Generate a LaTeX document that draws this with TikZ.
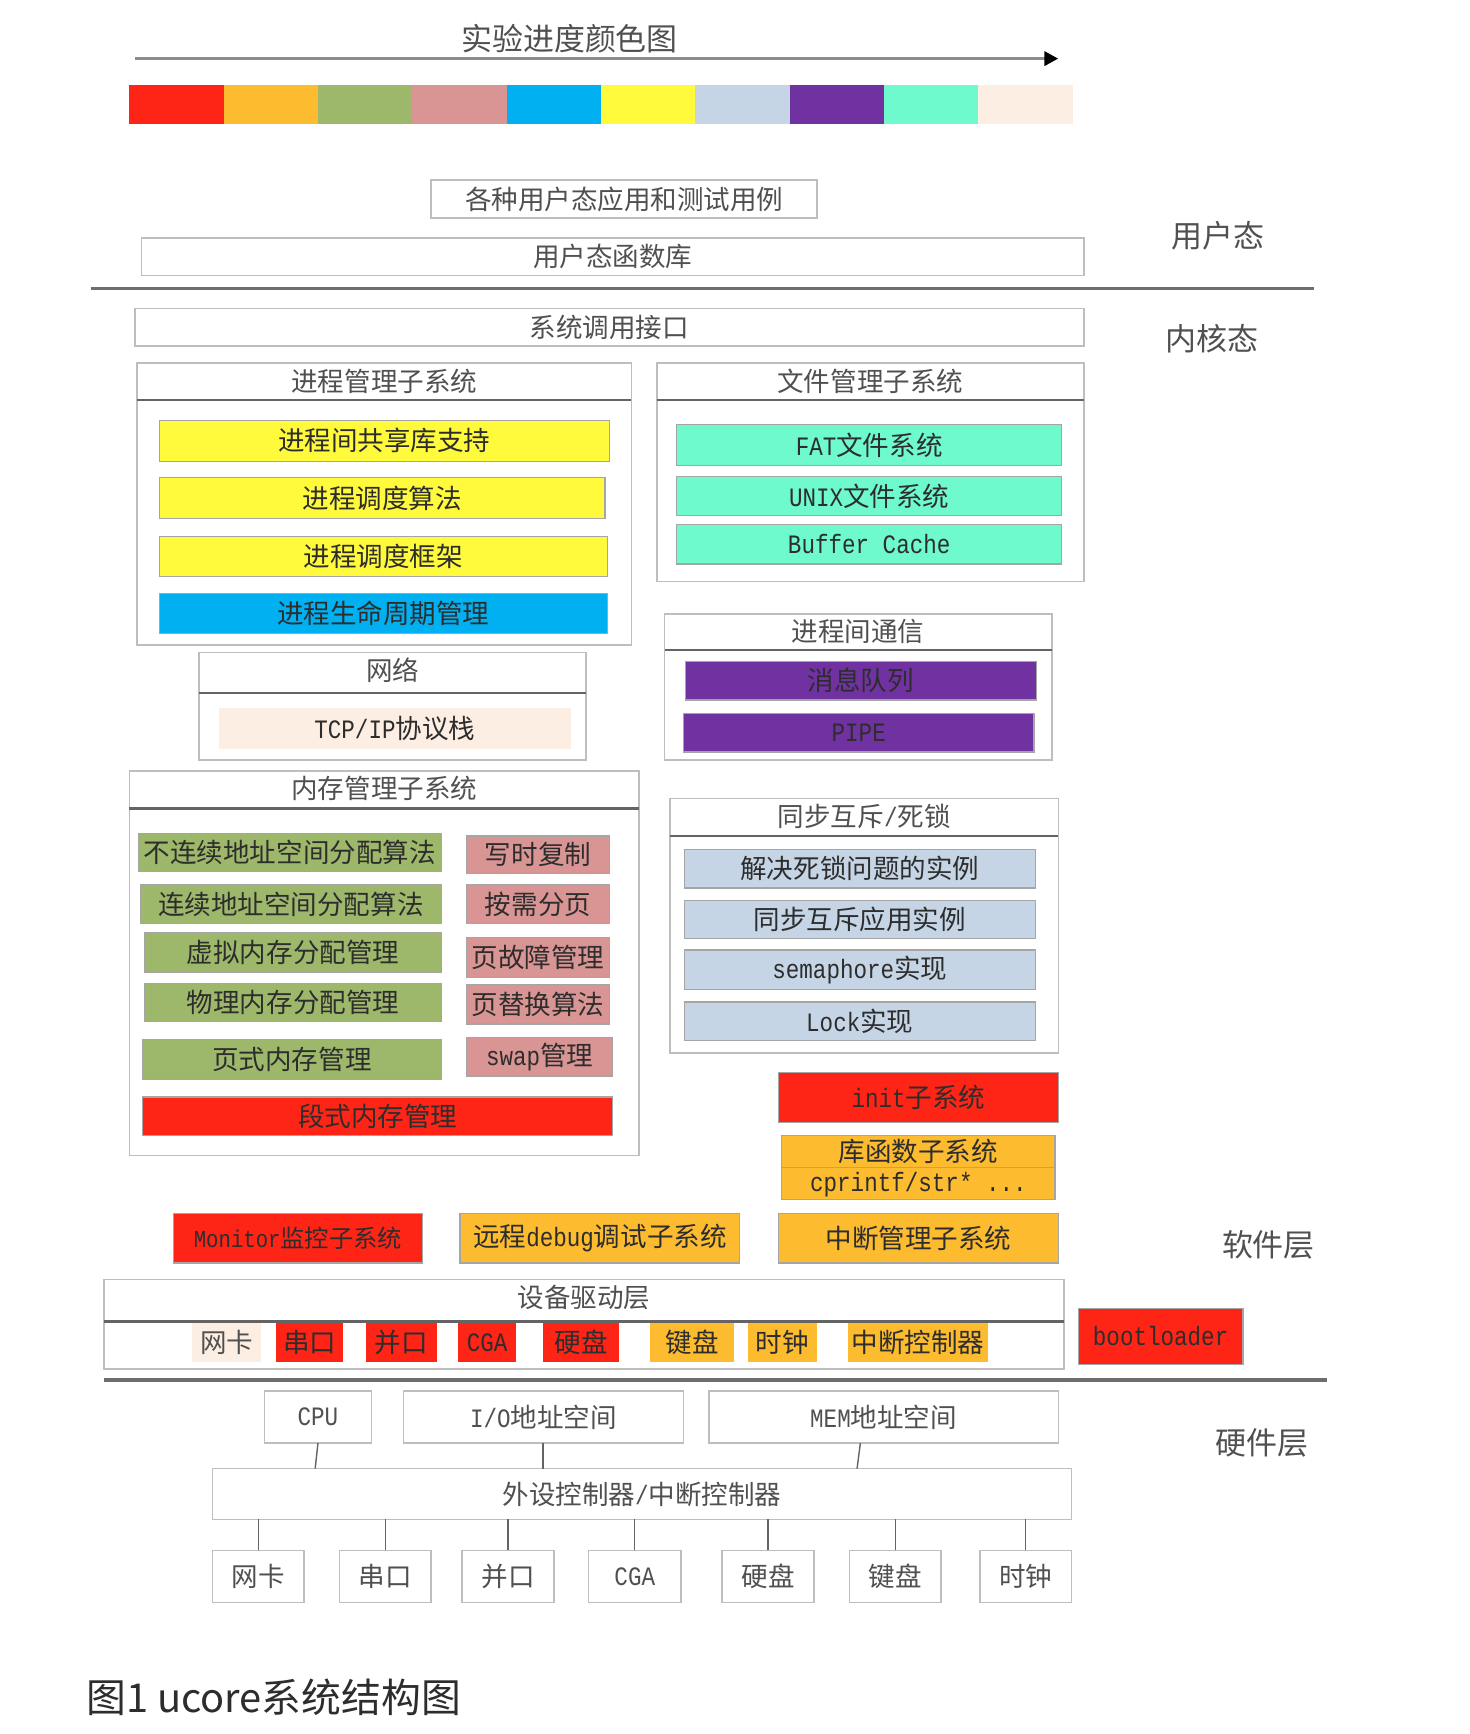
\documentclass[tikz,border=0pt]{standalone}
\usepackage{fontspec}
\setmainfont{Noto Sans CJK SC}
\newfontfamily\lat[FakeStretch=0.85]{Liberation Mono}
\usetikzlibrary{arrows.meta}
\definecolor{cRed}{RGB}{254,36,22}
\definecolor{cOrange}{RGB}{253,187,47}
\definecolor{cGreen}{RGB}{157,184,106}
\definecolor{cPink}{RGB}{217,149,148}
\definecolor{cCyan}{RGB}{0,176,240}
\definecolor{cYellow}{RGB}{255,250,60}
\definecolor{cBlue}{RGB}{198,213,229}
\definecolor{cPurple}{RGB}{112,50,160}
\definecolor{cMint}{RGB}{110,250,205}
\definecolor{cCream}{RGB}{252,238,226}
\definecolor{frameC}{RGB}{190,190,190}
\definecolor{itemC}{RGB}{165,165,165}
\definecolor{divC}{RGB}{100,100,100}
\definecolor{sepC}{RGB}{110,110,110}
\definecolor{txtGray}{RGB}{80,80,80}
\definecolor{txtDark}{RGB}{45,45,45}
\definecolor{arrowC}{RGB}{140,140,140}
\newcommand\bx[7]{\node[#6, minimum width={(#4-#2)*0.55pt}, minimum height={(#5-#3)*0.55pt}] (#1) at ({(#2+#4)/2},{(#3+#5)/2}) {#7};}
\tikzset{
  fA/.style={font=\fontsize{13.2pt}{15pt}\selectfont},
  fB/.style={font=\fontsize{12.1pt}{14pt}\selectfont},
  fC/.style={font=\fontsize{15.4pt}{17pt}\selectfont},
  frame/.style={draw=frameC, line width=0.8pt, fill=white},
  wbox/.style={frame, text=txtGray, fA},
  item/.style={draw=itemC, line width=0.6pt, text=txtDark, fA},
  ttl/.style={text=txtGray, fA},
  lbl/.style={text=txtGray, fC},
  divider/.style={draw=divC, line width=1.1pt},
  sepline/.style={draw=sepC, line width=1.7pt},
  conn/.style={draw=divC, line width=0.7pt},
  bar/.style={draw=none, minimum height={35*0.55pt}, minimum width={85.3*0.55pt}},
}
\begin{document}
\begin{tikzpicture}[x=0.55pt,y=-0.55pt, every node/.style={inner sep=0pt,outer sep=0pt}]
\fill[white] (0,0) rectangle (1329,1568);
\useasboundingbox (0,0) rectangle (1329,1568);

% ---- title and progress arrow
\node[text=txtGray, font=\fontsize{15.4pt}{17pt}\selectfont] (title) at (515,35) {实验进度颜色图};
\coordinate (arS) at (122,53);
\coordinate (arE) at (957,53);
\draw[draw=arrowC, line width=1.8pt, -{Triangle[length=7pt,width=7pt,color=black]}] (arS) -- (arE);

% ---- colour bar
\foreach \c [count=\i from 0] in {cRed,cOrange,cGreen,cPink,cCyan,cYellow,cBlue,cPurple,cMint,cCream}{
  \node[bar, fill=\c] (cb\i) at ({117+85.3*\i+42.65},94.5) {};
}

% ---- user space
\bx{apps}{390}{163}{739}{197}{wbox}{各种用户态应用和测试用例}
\bx{ulib}{128}{215}{980}{249}{wbox}{用户态函数库}
\node[lbl] (lUser) at (1101,213) {用户态};
\coordinate (s1a) at (82,261);
\coordinate (s1b) at (1188,261);
\draw[sepline] (s1a) -- (s1b);
\node[lbl] (lKern) at (1096,306) {内核态};
\bx{sysc}{122}{279}{980}{313}{wbox}{系统调用接口}

% ---- process management
\bx{pm}{124}{328}{571}{583}{frame}{}
\node[ttl] (pmT) at (347.5,345) {进程管理子系统};
\draw[divider] (pm.west |- 0,362) -- (pm.east |- 0,362);
\bx{pm1}{144}{380}{551}{417}{item, fill=cYellow}{进程间共享库支持}
\bx{pm2}{144}{432}{547}{469}{item, fill=cYellow}{进程调度算法}
\bx{pm3}{144}{485}{549}{521}{item, fill=cYellow}{进程调度框架}
\bx{pm4}{144}{537}{549}{573}{item, fill=cCyan}{进程生命周期管理}

% ---- file management
\bx{fm}{594}{328}{980}{526}{frame}{}
\node[ttl] (fmT) at (787,345) {文件管理子系统};
\draw[divider] (fm.west |- 0,362) -- (fm.east |- 0,362);
\bx{fm1}{612}{384}{960}{421}{item, fill=cMint}{{\lat FAT}文件系统}
\bx{fm2}{612}{431}{960}{466}{item, fill=cMint}{{\lat UNIX}文件系统}
\bx{fm3}{612}{474}{960}{510}{item, fill=cMint}{{\lat Buffer Cache}}

% ---- network
\bx{net}{180}{590}{530}{687}{frame}{}
\node[ttl] (netT) at (355,606) {网络};
\draw[divider] (net.west |- 0,627) -- (net.east |- 0,627);
\bx{net1}{198}{640}{516}{677}{item, draw=none, fill=cCream}{{\lat TCP/IP}协议栈}

% ---- IPC
\bx{ipc}{601}{555}{951}{687}{frame}{}
\node[ttl] (ipcT) at (776,571) {进程间通信};
\draw[divider] (ipc.west |- 0,588) -- (ipc.east |- 0,588);
\bx{ipc1}{620}{598}{937}{633}{item, fill=cPurple}{消息队列}
\bx{ipc2}{618}{645}{935}{680}{item, fill=cPurple}{{\lat PIPE}}

% ---- memory management
\bx{mm}{117}{697}{578}{1045}{frame}{}
\node[ttl] (mmT) at (347.5,713) {内存管理子系统};
\draw[divider] (mm.west |- 0,731) -- (mm.east |- 0,731);
\bx{mm1}{125}{754}{399}{788}{item, fill=cGreen}{不连续地址空间分配算法}
\bx{mm2}{127}{800}{399}{835}{item, fill=cGreen}{连续地址空间分配算法}
\bx{mm3}{131}{843}{399}{879}{item, fill=cGreen}{虚拟内存分配管理}
\bx{mm4}{131}{889}{399}{924}{item, fill=cGreen}{物理内存分配管理}
\bx{mm5}{129}{940}{399}{976}{item, fill=cGreen}{页式内存管理}
\bx{mp1}{422}{756}{551}{790}{item, fill=cPink}{写时复制}
\bx{mp2}{422}{800}{551}{835}{item, fill=cPink}{按需分页}
\bx{mp3}{422}{848}{551}{884}{item, fill=cPink}{页故障管理}
\bx{mp4}{422}{890}{551}{926}{item, fill=cPink}{页替换算法}
\bx{mp5}{422}{938}{554}{973}{item, fill=cPink}{{\lat swap}管理}
\bx{mm6}{129}{992}{554}{1027}{item, fill=cRed}{段式内存管理}

% ---- synchronisation
\bx{sync}{606}{722}{957}{952}{frame}{}
\node[ttl] (syncT) at (781.5,738) {同步互斥{\lat /}死锁};
\draw[divider] (sync.west |- 0,756) -- (sync.east |- 0,756);
\bx{sy1}{619}{768}{936}{803}{item, fill=cBlue}{解决死锁问题的实例}
\bx{sy2}{619}{814}{936}{849}{item, fill=cBlue}{同步互斥应用实例}
\bx{sy3}{619}{859}{936}{895}{item, fill=cBlue}{{\lat semaphore}实现}
\bx{sy4}{619}{906}{936}{941}{item, fill=cBlue}{{\lat Lock}实现}

% ---- init / lib
\bx{init}{704}{970}{957}{1015}{item, fill=cRed}{{\lat init}子系统}
\bx{lib}{707}{1027}{954}{1085}{item, fill=cOrange}{}
\node[text=txtDark, fA] (libT) at (830.5,1041) {库函数子系统};
\draw[draw=itemC, line width=0.6pt] (lib.west |- 0,1056) -- (lib.east |- 0,1056);
\node[text=txtDark, fA] (libS) at (830.5,1071) {{\lat cprintf/str* ...}};

% ---- software layer row
\bx{mon}{157}{1097}{382}{1142}{item, fill=cRed, fB}{{\lat Monitor}监控子系统}
\bx{dbg}{416}{1097}{669}{1142}{item, fill=cOrange}{远程{\lat debug}调试子系统}
\bx{intm}{704}{1097}{957}{1142}{item, fill=cOrange}{中断管理子系统}
\node[lbl] (lSoft) at (1147,1126) {软件层};

% ---- device drivers
\bx{dd}{94}{1157}{962}{1238}{frame}{}
\node[ttl] (ddT) at (528,1173) {设备驱动层};
\draw[divider] (dd.west |- 0,1195) -- (dd.east |- 0,1195);
\bx{d1}{174}{1196}{236}{1232}{item, draw=none, fill=cCream, text=txtGray}{网卡}
\bx{d2}{250}{1196}{310}{1232}{item, draw=none, fill=cRed}{串口}
\bx{d3}{331}{1196}{395}{1232}{item, draw=none, fill=cRed}{并口}
\bx{d4}{414}{1196}{467}{1232}{item, draw=none, fill=cRed}{{\lat CGA}}
\bx{d5}{491}{1196}{560}{1232}{item, draw=none, fill=cRed}{硬盘}
\bx{d6}{588}{1196}{664}{1232}{item, draw=none, fill=cOrange}{键盘}
\bx{d7}{676}{1196}{739}{1232}{item, draw=none, fill=cOrange}{时钟}
\bx{d8}{767}{1196}{893}{1232}{item, draw=none, fill=cOrange}{中断控制器}
\bx{boot}{975}{1183}{1124}{1234}{item, fill=cRed}{{\lat bootloader}}

% ---- hardware layer
\coordinate (s2a) at (94,1248);
\coordinate (s2b) at (1200,1248);
\draw[sepline] (s2a) -- (s2b);
\node[lbl] (lHard) at (1141,1305) {硬件层};
\bx{cpu}{239}{1258}{336}{1305}{wbox}{{\lat CPU}}
\bx{io}{365}{1258}{618}{1305}{wbox}{{\lat I/O}地址空间}
\bx{mem}{641}{1258}{957}{1305}{wbox}{{\lat MEM}地址空间}
\bx{per}{192}{1328}{969}{1374}{wbox}{外设控制器{\lat /}中断控制器}
\draw[conn] (cpu.south) -- (285,0 |- per.north);
\draw[conn] (491,0 |- io.south) -- (491,0 |- per.north);
\draw[conn] (778,0 |- mem.south) -- (775,0 |- per.north);
\bx{h1}{192}{1402}{275}{1449}{wbox}{网卡}
\bx{h2}{307}{1402}{390}{1449}{wbox}{串口}
\bx{h3}{418}{1402}{501}{1449}{wbox}{并口}
\bx{h4}{532}{1402}{616}{1449}{wbox}{{\lat CGA}}
\bx{h5}{653}{1402}{736}{1449}{wbox}{硬盘}
\bx{h6}{768}{1402}{851}{1449}{wbox}{键盘}
\bx{h7}{886}{1402}{969}{1449}{wbox}{时钟}
\foreach \h in {h1,h2,h3,h4,h5,h6,h7}{
  \draw[conn] (\h.north) -- (\h.north |- per.south);
}

% ---- caption
\node[anchor=west, text=txtDark, font=\fontsize{19.8pt}{22pt}\selectfont] (cap) at (78,1535) {图1 ucore系统结构图};
\end{tikzpicture}
\end{document}
